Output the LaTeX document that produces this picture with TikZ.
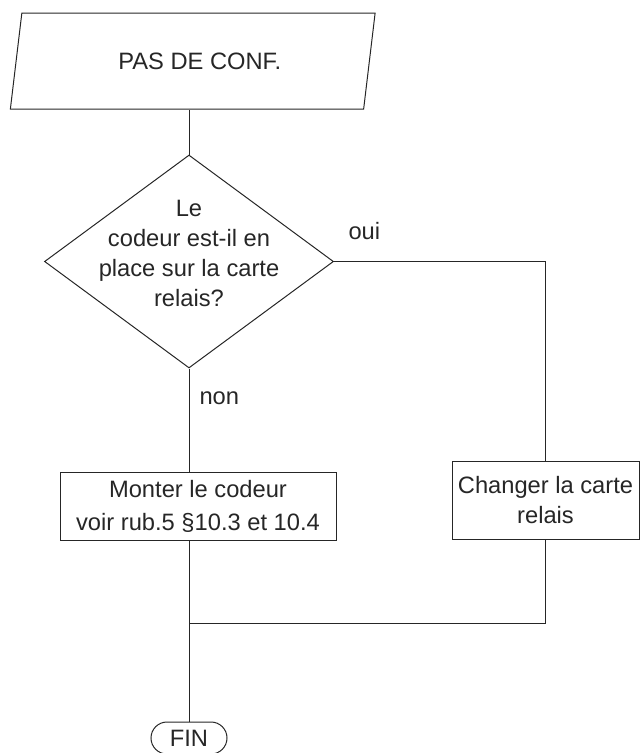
\documentclass[tikz,border=0pt]{standalone}
\usepackage{fontspec}
\setmainfont{Liberation Sans}
\usetikzlibrary{shapes.geometric,shapes.misc}

\begin{document}
\begin{tikzpicture}[
  x=1pt, y=-1pt,
  font=\fontsize{23.7}{30}\selectfont,
  line width=1pt,
  color=black!85,
  io/.style={
    draw,
    trapezium,
    trapezium left angle=70.5,
    trapezium right angle=109.5,
    trapezium stretches=true,
    minimum width=365,
    minimum height=96,
    inner sep=0pt
  },
  decision/.style={
    draw,
    diamond,
    minimum width=289,
    minimum height=213,
    inner sep=0pt
  },
  process/.style={
    draw,
    rectangle,
    align=center,
    inner sep=0pt
  },
  terminal/.style={
    draw,
    rounded rectangle,
    minimum width=76,
    minimum height=32,
    inner sep=0pt
  },
  branch/.style={anchor=base west, inner sep=0pt}
]
\useasboundingbox (0,0) rectangle (640,753);
\node[io] (title) at (192.75,61) {\hspace*{14pt}PAS DE CONF.};
\node[decision] (question) at (189,261.5) {};
\node[align=center, inner sep=0pt] (questiontext) at (189,253) {Le\\codeur est-il en\\place sur la carte\\relais?};
\node[process, minimum width=276, minimum height=68] (mount) at (198,506) {Monter le codeur\\[3pt]voir rub.5 §10.3 et 10.4};
\node[process, minimum width=187, minimum height=78] (relay) at (545.5,500) {Changer la carte\\relais};
\node[terminal] (fin) at (189,738) {FIN};
\coordinate (merge) at (189,623);
\node[branch] (yes) at (348,239) {oui};
\node[branch] (no) at (199,404) {non};
\draw (question.north) -- (question.north |- title.south);
\draw (question.east) -- (question.east -| relay.north) -- (relay.north);
\draw (question.south) -- (question.south |- mount.north);
\draw (question.south |- mount.south) -- (fin.north);
\draw (relay.south) -- (relay.south |- merge) -- (merge);
\end{tikzpicture}
\end{document}
